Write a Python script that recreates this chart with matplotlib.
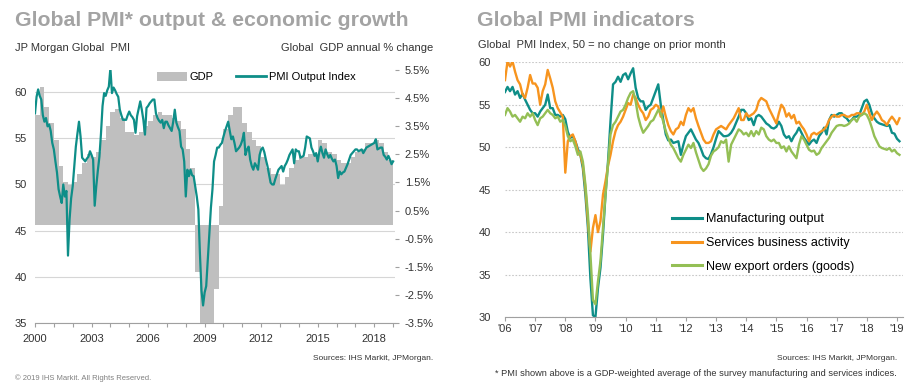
import numpy as np
import matplotlib.pyplot as plt
from matplotlib.patches import Patch
from matplotlib.lines import Line2D

plt.rcParams['font.family'] = ['Liberation Sans', 'DejaVu Sans']

# ---- left chart data: JP Morgan Global PMI output (monthly, Jan 2000 - Jan 2019)
pmi_2000 = [57.7, 59.5, 60.3, 59.6, 59.2, 57.5, 56.8, 57.2, 56.3, 56.5, 55.8, 54.5]
pmi_2001 = [53.8, 52.5, 51.3, 49.5, 48.7, 48.0, 50.0, 48.7, 49.3, 42.3, 46.2, 48.5]
pmi_2002 = [49.8, 52.0, 54.1, 55.5, 56.8, 55.2, 52.9, 52.7, 52.5, 52.8, 53.0, 53.6]
pmi_2003 = [53.2, 52.7, 47.7, 49.8, 51.5, 53.0, 55.5, 58.5, 59.9, 59.6, 60.2, 60.6]
pmi_2004 = [62.6, 59.9, 60.5, 60.2, 59.8, 59.5, 58.1, 57.5, 57.0, 57.0, 57.0, 57.5]
pmi_2005 = [57.9, 57.5, 57.3, 57.0, 55.6, 57.4, 58.2, 59.0, 58.1, 57.0, 55.4, 58.3]
pmi_2006 = [58.5, 58.8, 59.0, 59.2, 59.2, 57.7, 57.2, 56.9, 56.7, 57.0, 56.1, 56.8]
pmi_2007 = [56.8, 56.4, 56.1, 55.8, 56.8, 58.1, 56.7, 56.2, 55.8, 54.1, 53.8, 52.5]
pmi_2008 = [48.7, 51.6, 50.9, 51.6, 51.0, 50.9, 49.8, 48.7, 47.3, 42.5, 38.5, 36.9]
pmi_2009 = [38.3, 39.0, 41.9, 44.6, 47.5, 49.5, 52.5, 53.2, 54.0, 54.0, 54.3, 54.5]
pmi_2010 = [55.2, 55.8, 56.3, 56.8, 55.8, 54.9, 55.2, 54.5, 53.6, 53.8, 54.0, 54.3]
pmi_2011 = [54.8, 55.6, 53.2, 53.8, 54.1, 52.7, 52.0, 51.6, 52.3, 52.0, 51.6, 53.2]
pmi_2012 = [53.8, 54.0, 53.5, 52.7, 52.0, 51.1, 50.2, 50.0, 50.0, 50.6, 51.1, 51.6]
pmi_2013 = [51.8, 52.0, 51.4, 52.0, 52.3, 52.7, 53.2, 53.5, 53.8, 52.3, 53.8, 53.6]
pmi_2014 = [53.6, 52.9, 53.0, 53.1, 54.0, 55.2, 55.1, 55.0, 54.0, 53.6, 53.1, 53.4]
pmi_2015 = [52.5, 53.5, 54.1, 53.4, 52.9, 53.8, 53.3, 52.9, 53.2, 52.8, 52.5, 52.7]
pmi_2016 = [52.0, 50.7, 51.4, 51.1, 51.3, 51.4, 51.8, 52.2, 52.7, 53.2, 53.4, 53.6]
pmi_2017 = [53.8, 53.8, 53.6, 53.7, 53.8, 53.4, 53.7, 54.0, 54.1, 54.2, 54.3, 54.4]
pmi_2018 = [54.5, 54.9, 53.8, 53.9, 54.0, 54.0, 53.2, 53.0, 52.7, 53.1, 52.7, 52.2]
pmi_2019 = [52.5]

# global GDP annual % change, quarterly 2000Q1 - 2018Q4
gdp_q = [3.9, 4.9, 4.2, 3.6, 3.0, 2.1, 1.5, 1.4, 1.5, 1.8, 2.2, 2.5,
         2.4, 2.6, 3.0, 3.5, 4.0, 4.1, 3.8, 3.3, 3.3, 3.2, 3.3, 3.5,
         3.7, 3.9, 4.0, 3.9, 3.9, 3.8, 3.7, 3.4, 2.7, 2.0, -1.7, -4.0,
         -4.5, -4.0, -2.3, 0.65, 3.4, 3.9, 4.2, 4.2, 3.6, 3.3, 3.0, 2.8,
         2.4, 2.0, 1.8, 1.8, 1.4, 1.7, 2.0, 2.3, 2.4, 2.4, 2.5, 2.5,
         3.0, 2.9, 2.6, 2.5, 2.3, 2.2, 2.2, 2.4, 2.6, 2.7, 2.9, 2.9,
         3.0, 2.9, 2.6, 2.3]

left_years = [2000, 2003, 2006, 2009, 2012, 2015, 2018]
gdp_ticks = [-3.5, -2.5, -1.5, -0.5, 0.5, 1.5, 2.5, 3.5, 4.5, 5.5]
pmi_ticks = [35, 40, 45, 50, 55, 60]

# ---- right chart data: monthly Jan 2006 - Feb 2019
mfg_output = [
    56.5, 57.1, 56.6, 57.1, 56.2, 56.6, 55.8, 56.3, 55.6, 55.0, 54.4, 54.0,
    54.0, 53.6, 54.2, 54.6, 55.0, 56.2, 54.6, 54.6, 53.8, 53.8, 53.6, 53.8,
    53.3, 51.8, 51.1, 51.3, 50.7, 49.8, 49.1, 47.5, 44.4, 40.5, 34.5, 30.2,
    30.0, 33.4, 35.8, 39.7, 44.4, 48.3, 53.1, 57.4, 57.7, 58.3, 57.7, 58.5,
    58.7, 58.0, 58.7, 59.3, 57.0, 55.8, 55.4, 55.4, 54.4, 54.8, 55.0, 55.8,
    56.6, 57.4, 55.0, 53.2, 51.5, 50.8, 50.9, 50.5, 50.6, 50.7, 49.1, 50.3,
    51.3, 51.7, 52.1, 51.5, 50.9, 50.5, 49.8, 49.0, 48.7, 48.6, 49.2, 50.0,
    51.0, 51.9, 51.6, 51.3, 51.3, 51.4, 51.7, 52.2, 52.9, 53.6, 54.4, 54.4,
    54.0, 53.2, 53.4, 52.6, 53.6, 53.8, 53.6, 53.2, 52.8, 52.6, 52.3, 52.2,
    52.4, 53.0, 52.5, 51.5, 51.1, 51.3, 50.7, 51.3, 51.7, 52.3, 51.7, 51.1,
    50.7, 50.3, 50.7, 50.9, 50.5, 51.3, 51.7, 52.3, 51.5, 53.2, 53.8, 53.6,
    53.8, 54.0, 54.0, 53.6, 53.4, 53.0, 53.2, 53.6, 53.6, 53.8, 54.6, 55.4,
    55.6, 55.0, 54.0, 53.4, 53.0, 52.8, 52.7, 52.6, 52.5, 52.6, 51.7, 51.6,
    51.0, 50.7]
services = [
    57.9, 60.1, 59.5, 60.1, 58.9, 57.9, 57.4, 56.2, 55.8, 57.0, 58.5, 57.5,
    57.5, 57.0, 55.0, 56.6, 57.4, 59.1, 58.1, 57.0, 55.4, 54.6, 54.1, 53.6,
    47.0, 50.7, 51.3, 51.5, 50.7, 49.5, 49.1, 47.9, 45.2, 41.3, 37.7, 40.5,
    42.0, 40.0, 41.3, 44.4, 46.0, 47.8, 49.1, 50.7, 51.9, 52.6, 53.0, 53.6,
    54.4, 55.2, 55.0, 56.2, 55.8, 55.0, 54.4, 54.0, 53.2, 53.6, 54.4, 54.6,
    55.0, 54.8, 53.6, 54.8, 53.6, 52.6, 51.9, 51.5, 52.1, 52.3, 53.0, 52.6,
    53.8, 54.6, 54.2, 54.6, 53.4, 52.5, 51.7, 50.9, 50.5, 50.5, 50.7, 51.5,
    52.1, 52.3, 52.5, 52.3, 52.1, 52.6, 53.0, 53.4, 54.0, 54.6, 53.2, 53.2,
    54.0, 53.6, 53.8, 54.0, 54.4, 55.4, 55.8, 55.6, 55.4, 54.6, 54.0, 53.4,
    52.8, 54.0, 55.0, 54.6, 53.6, 54.0, 53.4, 53.8, 52.8, 53.0, 52.5, 52.1,
    51.5, 50.7, 51.5, 51.7, 51.5, 51.7, 51.9, 52.1, 52.5, 53.2, 53.6, 53.8,
    53.6, 53.6, 53.8, 53.8, 53.6, 53.6, 53.8, 53.8, 54.0, 54.0, 53.8, 54.2,
    55.0, 54.0, 53.2, 53.8, 54.2, 53.8, 53.2, 53.0, 52.6, 53.2, 53.6, 53.2,
    52.7, 53.4]
export_orders = [
    53.8, 54.6, 54.2, 53.6, 53.8, 53.4, 53.0, 53.6, 53.4, 54.0, 53.6, 54.0,
    53.2, 52.6, 53.4, 53.6, 54.0, 54.4, 54.0, 53.8, 53.4, 53.6, 53.0, 53.2,
    52.5, 51.3, 50.7, 50.9, 50.1, 49.1, 49.5, 48.3, 45.6, 42.1, 37.4, 32.0,
    31.5, 34.2, 36.6, 40.5, 44.4, 47.9, 51.5, 52.6, 53.0, 53.6, 54.2, 54.4,
    55.0, 55.8, 56.4, 56.6, 55.4, 53.6, 52.5, 51.7, 52.1, 52.5, 53.0, 53.2,
    53.8, 54.4, 54.0, 53.0, 51.9, 51.1, 50.3, 49.9, 49.3, 48.7, 48.3, 49.1,
    49.7, 50.3, 49.9, 50.5, 49.4, 48.5, 47.6, 47.2, 47.5, 48.0, 49.0, 49.5,
    49.7, 50.0, 50.7, 50.5, 50.9, 48.3, 50.3, 50.9, 51.5, 52.1, 51.9, 51.5,
    51.7, 51.3, 51.9, 51.3, 51.9, 51.5, 52.3, 52.1, 51.3, 50.9, 50.7, 50.9,
    50.5, 50.5, 49.9, 50.1, 49.5, 50.1, 49.5, 49.1, 48.7, 50.3, 51.3, 50.9,
    50.3, 49.7, 49.5, 49.6, 49.1, 49.3, 49.9, 50.3, 50.7, 51.1, 51.7, 52.1,
    52.5, 52.6, 52.6, 52.5, 52.6, 52.8, 53.2, 53.4, 53.0, 53.6, 53.8, 54.0,
    53.8, 53.2, 52.3, 51.3, 50.7, 50.1, 49.9, 49.8, 49.7, 49.9, 49.5, 49.7,
    49.3, 49.1]
series_labels = ['Manufacturing output', 'Services business activity',
                 'New export orders (goods)']
right_ticks = [30, 35, 40, 45, 50, 55, 60]

# ---- styling
W, H = 915, 388
TEAL = '#0E8E88'
ORANGE = '#F7941E'
GREEN = '#94BF55'
BAR = '#BFBFBF'
TITLE = '#A3A3A3'
TXT = '#333333'
GRID = '#D6D6D6'


def fx(x):
    return x / W


def fy(y):
    return 1 - y / H


fig = plt.figure(figsize=(W / 100, H / 100), dpi=100)

# ================= left chart =================
pmi = np.concatenate([pmi_2000, pmi_2001, pmi_2002, pmi_2003, pmi_2004, pmi_2005,
                      pmi_2006, pmi_2007, pmi_2008, pmi_2009, pmi_2010, pmi_2011,
                      pmi_2012, pmi_2013, pmi_2014, pmi_2015, pmi_2016, pmi_2017,
                      pmi_2018, pmi_2019])
pmi_t = 2000 + np.arange(len(pmi)) / 12
gdp_t = 2000 + np.arange(len(gdp_q)) / 4

rect = [fx(35), fy(323), fx(395) - fx(35), fy(70) - fy(323)]
ax = fig.add_axes(rect)
ax_gdp = ax.twinx()
ax_line = ax.twinx()

ax.set_xlim(2000, 2019.1)
ax.set_ylim(35, 62.4)
ax.set_yticks(pmi_ticks)
ax.grid(axis='y', color=GRID, lw=0.8)
ax.set_axisbelow(True)
ax.set_xticks(range(2000, 2020))
ax.set_xticklabels([str(y) if y in left_years else '' for y in range(2000, 2020)])
ax.tick_params(axis='x', length=3, color='#A0A0A0', labelsize=8, labelcolor=TXT, pad=5)
ax.tick_params(axis='y', length=0, labelsize=8, labelcolor=TXT, pad=6)
for s in ['top', 'right', 'left']:
    ax.spines[s].set_visible(False)
ax.spines['bottom'].set_color('#A0A0A0')

ax_gdp.bar(gdp_t, gdp_q, width=0.25, align='edge', color=BAR, lw=0)
ax_gdp.set_ylim(-3.5, 5.5)
ax_gdp.set_yticks(gdp_ticks)
ax_gdp.set_yticklabels([f'{v:.1f}%' for v in gdp_ticks])
ax_gdp.tick_params(axis='y', length=3, color='#A0A0A0', labelsize=8, labelcolor=TXT, pad=4)
for s in ax_gdp.spines.values():
    s.set_visible(False)

ax_line.plot(pmi_t, pmi, color=TEAL, lw=1.6)
ax_line.set_ylim(35, 62.4)
ax_line.set_yticks([])
for s in ax_line.spines.values():
    s.set_visible(False)

handles = [Patch(facecolor=BAR, edgecolor='none'), Line2D([], [], color=TEAL, lw=2)]
ax_line.legend(handles, ['GDP', 'PMI Output Index'], loc='center',
               bbox_to_anchor=(0.615, 0.972), ncol=2, frameon=False, fontsize=8,
               handlelength=2.7, handleheight=0.9, handletextpad=0.3,
               columnspacing=2.0, borderpad=0)

fig.text(fx(15), fy(20), 'Global PMI* output & economic growth', fontsize=15.3,
         fontweight='bold', color=TITLE, va='center')
fig.text(fx(15), fy(48), 'JP Morgan Global  PMI', fontsize=8, color=TXT, va='center')
fig.text(fx(433), fy(48), 'Global  GDP annual % change', fontsize=8, color=TXT,
         va='center', ha='right')

# ================= right chart =================
m_t = 2006 + np.arange(len(mfg_output)) / 12
axr = fig.add_axes([fx(505), fy(317), fx(903) - fx(505), fy(62.3) - fy(317)])
axr.plot(m_t, mfg_output, color=TEAL, lw=1.7, label=series_labels[0])
axr.plot(m_t, services, color=ORANGE, lw=1.7, label=series_labels[1])
axr.plot(m_t, export_orders, color=GREEN, lw=1.7, label=series_labels[2])
axr.set_xlim(2006, 2006 + 398 / 30.15)
axr.set_ylim(30, 60)
axr.set_yticks(right_ticks)
axr.grid(axis='y', color='#C8C8C8', lw=0.8, ls=(0, (1.5, 1.5)))
axr.set_axisbelow(True)
axr.set_xticks(range(2006, 2020))
axr.set_xticklabels([f"'{y % 100:02d}" for y in range(2006, 2020)])
axr.tick_params(axis='x', length=3, color='#A0A0A0', labelsize=8, labelcolor=TXT, pad=2)
axr.tick_params(axis='y', length=0, labelsize=8, labelcolor=TXT, pad=10)
for s in ['top', 'right', 'left']:
    axr.spines[s].set_visible(False)
axr.spines['bottom'].set_color('#A0A0A0')

leg_handles = [Line2D([], [], color=c, lw=2.2) for c in (TEAL, ORANGE, GREEN)]
axr.legend(leg_handles, series_labels, loc='upper left',
           bbox_to_anchor=((672 - 505) / 398, (317 - 213) / 254.7),
           frameon=False, fontsize=9, handlelength=2.4, handletextpad=0.35,
           labelspacing=0.95, borderpad=0, borderaxespad=0)

fig.text(fx(477), fy(20), 'Global PMI indicators', fontsize=15.3,
         fontweight='bold', color=TITLE, va='center')
fig.text(fx(478), fy(45), 'Global  PMI Index, 50 = no change on prior month',
         fontsize=8, color=TXT, va='center')

# ================= footers =================
narrow = ['Liberation Sans Narrow', 'Liberation Sans', 'DejaVu Sans']
fig.text(fx(433), fy(358), 'Sources: IHS Markit, JPMorgan.', fontsize=6,
         color=TXT, ha='right', va='center', family=narrow)
fig.text(fx(897), fy(358), 'Sources: IHS Markit, JPMorgan.', fontsize=6,
         color=TXT, ha='right', va='center', family=narrow)
fig.text(fx(897), fy(373), '* PMI shown above is a GDP-weighted average of the '
         'survey manufacturing and services indices.', fontsize=6.7, color=TXT,
         ha='right', va='center', family=narrow)
fig.text(fx(15), fy(378), '\u00a9 2019 IHS Markit. All Rights Reserved.',
         fontsize=5.5, color='#808080', va='center', family=narrow)

fig.savefig('out.png', dpi=100)
